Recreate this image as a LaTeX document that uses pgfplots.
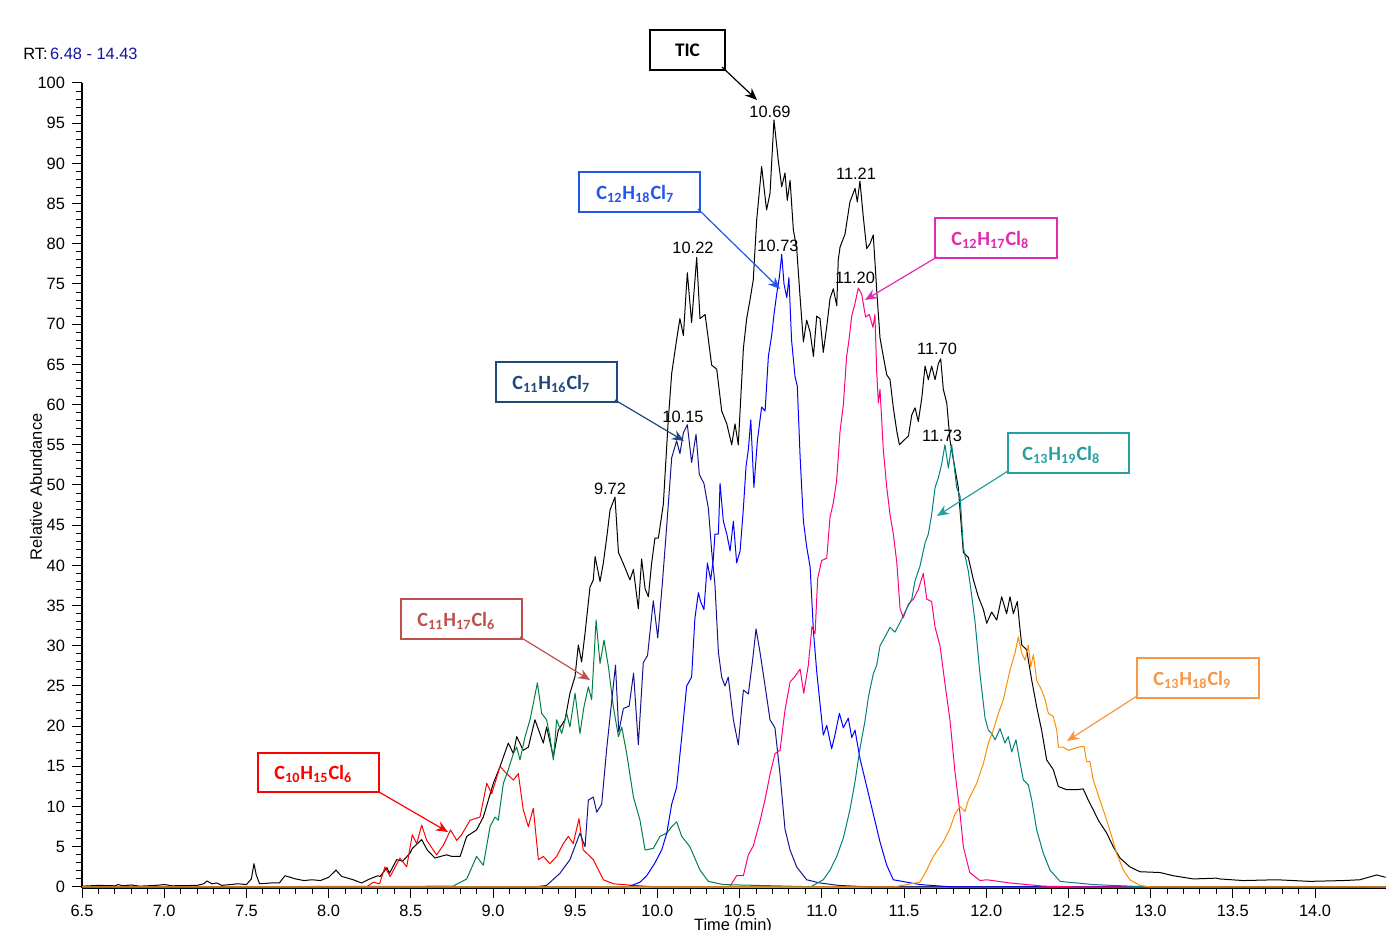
\documentclass[border=0pt]{standalone}
\usepackage{fontspec}
\setmainfont{Liberation Sans}
\newfontfamily\calib{Carlito}
\usepackage{pgfplots}
\pgfplotsset{compat=1.18}
\usetikzlibrary{arrows.meta}

\definecolor{trRed}{RGB}{255,0,0}
\definecolor{trGreen}{RGB}{0,128,64}
\definecolor{trNavy}{RGB}{20,20,140}
\definecolor{trBlue}{RGB}{0,0,255}
\definecolor{trPink}{RGB}{255,0,128}
\definecolor{trTeal}{RGB}{0,128,128}
\definecolor{trOrange}{RGB}{255,140,0}
\definecolor{bxBlue}{RGB}{34,85,238}
\definecolor{bxMag}{RGB}{226,43,174}
\definecolor{bxNavy}{RGB}{31,73,125}
\definecolor{bxTeal}{RGB}{40,160,160}
\definecolor{bxBrick}{RGB}{192,80,77}
\definecolor{bxOrange}{RGB}{247,150,70}
\definecolor{bxRed}{RGB}{255,0,0}
\definecolor{rtBlue}{RGB}{20,20,160}

\newcommand{\lbl}{\fontsize{8.2}{9.5}\selectfont}
\tikzset{
  fbox/.style={line width=1pt},
  ftxt/.style={anchor=base west, inner sep=0pt, font=\calib\bfseries\fontsize{10.1}{12}\selectfont},
  farr/.style={line width=0.6pt, -{Stealth[length=6pt,width=5pt]}},
  pk/.style={inner sep=0pt, font=\lbl}
}

\begin{document}
\begin{tikzpicture}
\begin{axis}[
  scale only axis, width=651.85pt, height=402.6pt,
  xmin=6.5, xmax=14.43, ymin=-0.15, ymax=100,
  axis x line*=bottom, axis y line*=left,
  xtick={6.5,7.0,7.5,8.0,8.5,9.0,9.5,10.0,10.5,11.0,11.5,12.0,12.5,13.0,13.5,14.0},
  ytick={0,5,10,15,20,25,30,35,40,45,50,55,60,65,70,75,80,85,90,95,100},
  minor x tick num=4, minor y tick num=4,
  tick align=outside, major tick length=5pt, minor tick length=3pt,
  tick style={black, line width=0.5pt},
  ticklabel style={font=\lbl},
  /pgf/number format/assume math mode=true,
  xticklabel style={/pgf/number format/.cd, fixed, fixed zerofill, precision=1},
  yticklabel style={/pgf/number format/.cd, fixed, precision=0},
  axis line style={line width=0.6pt},
  clip mode=individual,
  every axis plot/.append style={line width=0.5pt, line join=round, mark=none},
]
% TIC
\addplot[black] coordinates {
(6.5,0.1)(6.6,0.2)(6.7,0.15)(6.72,0.3)(6.75,0.15)(6.8,0.25)(6.85,0.1)(6.95,0.2)(7.0,0.3)(7.05,0.15)
(7.2,0.2)(7.24,0.4)(7.26,0.75)(7.29,0.4)(7.32,0.5)(7.35,0.2)(7.45,0.4)(7.5,0.3)(7.53,1.0)(7.546,2.9)
(7.56,1.5)(7.58,0.4)(7.65,0.5)(7.7,0.5)(7.735,1.4)(7.8,1.0)(7.85,0.8)(7.9,0.9)(7.95,0.8)(8.0,1.2)
(8.045,2.1)(8.08,1.3)(8.1,1.2)(8.15,0.9)(8.2,0.5)(8.25,1.0)(8.3,1.4)(8.313,1.3)(8.355,2.4)(8.37,1.7)
(8.414,3.4)(8.45,3.2)(8.495,4.2)(8.51,4.8)(8.566,5.9)(8.6,4.6)(8.647,3.6)(8.68,3.8)(8.718,4.0)(8.75,3.8)
(8.80,3.8)(8.84,6.3)(8.90,7.1)(8.941,8.7)(9.002,12.9)(9.043,15.0)(9.093,17.9)(9.124,16.6)(9.144,18.7)(9.184,17.0)
(9.215,17.4)(9.255,20.8)(9.306,17.9)(9.326,19.9)(9.367,16.2)(9.397,19.5)(9.438,20.8)(9.468,24.1)(9.499,26.2)(9.519,30.1)
(9.539,28.0)(9.560,31.6)(9.590,37.3)(9.610,38.2)(9.621,41.1)(9.651,38.0)(9.671,40.3)(9.692,43.5)(9.712,46.9)(9.742,48.5)
(9.763,41.6)(9.793,40.2)(9.833,38.2)(9.854,39.5)(9.884,34.6)(9.904,40.8)(9.925,37.1)(9.945,36.1)(9.965,40.3)(9.985,43.4)
(10.006,43.4)(10.036,47.6)(10.066,58.1)(10.087,63.9)(10.117,68.1)(10.137,70.7)(10.158,68.6)(10.182,76.4)(10.208,70.2)(10.239,78.3)
(10.259,70.7)(10.290,71.2)(10.310,68.1)(10.330,64.9)(10.361,64.4)(10.391,59.2)(10.422,57.6)(10.452,55.0)(10.472,57.6)(10.492,55.0)
(10.523,67.0)(10.543,70.7)(10.563,73.0)(10.583,75.5)(10.604,83.0)(10.634,89.6)(10.664,84.2)(10.685,86.3)(10.709,95.4)(10.735,90.4)
(10.756,87.1)(10.776,88.8)(10.790,85.4)(10.807,87.9)(10.827,81.7)(10.847,79.5)(10.868,73.3)(10.888,67.8)(10.908,70.5)(10.929,69.0)
(10.949,66.0)(10.969,71.0)(10.989,70.7)(11.009,66.5)(11.030,69.7)(11.050,73.2)(11.070,74.4)(11.091,72.3)(11.100,78.0)(11.111,79.6)
(11.141,81.2)(11.171,85.2)(11.202,86.9)(11.216,85.2)(11.232,87.8)(11.252,83.4)(11.273,79.4)(11.293,80.0)(11.313,81.1)(11.334,74.2)
(11.354,68.3)(11.374,66.0)(11.395,63.7)(11.415,63.1)(11.435,59.6)(11.456,56.7)(11.472,55.0)(11.496,55.5)(11.527,56.1)(11.547,58.7)
(11.567,59.6)(11.587,57.9)(11.608,60.8)(11.628,64.8)(11.648,63.1)(11.668,64.8)(11.689,63.1)(11.709,65.1)(11.723,65.7)(11.739,61.9)
(11.760,60.2)(11.780,55.5)(11.800,53.2)(11.830,49.7)(11.861,41.6)(11.891,41.0)(11.922,38.2)(11.952,36.1)(11.983,34.5)(12.003,32.8)
(12.033,34.2)(12.064,33.2)(12.094,36.1)(12.124,34.0)(12.145,36.1)(12.165,34.0)(12.189,35.5)(12.206,32.0)(12.216,30.1)(12.246,29.5)
(12.277,25.7)(12.307,22.4)(12.337,19.5)(12.368,15.8)(12.408,14.6)(12.439,12.5)(12.489,12.1)(12.550,12.1)(12.590,12.2)(12.621,10.8)
(12.651,9.6)(12.682,8.3)(12.733,6.7)(12.773,5.0)(12.814,3.6)(12.874,2.5)(12.935,1.9)(13.057,1.8)(13.138,1.4)(13.260,1.0)
(13.40,1.1)(13.422,1.0)(13.564,0.8)(13.767,0.9)(13.969,0.7)(14.172,0.8)(14.273,0.9)(14.375,1.5)(14.43,1.2)
};
% C10H15Cl6
\addplot[trRed] coordinates {
(6.5,0)(8.23,0)(8.272,0.6)(8.31,0.4)(8.343,2.5)(8.374,1.3)(8.434,3.6)(8.475,2.5)(8.509,6.5)(8.536,5.4)
(8.566,7.7)(8.597,5.8)(8.657,4.0)(8.698,5.2)(8.742,7.1)(8.779,5.8)(8.809,6.5)(8.86,8.3)(8.921,8.7)(8.962,12.9)
(8.992,11.6)(9.043,15.0)(9.073,14.3)(9.124,13.3)(9.154,14.1)(9.184,9.6)(9.215,7.5)(9.245,9.8)(9.276,3.4)(9.306,3.8)
(9.346,2.9)(9.387,3.8)(9.428,5.4)(9.458,6.3)(9.488,5.4)(9.523,8.5)(9.549,4.6)(9.580,4.0)(9.610,3.4)(9.671,0.9)
(9.732,0.4)(9.854,0.2)(10.0,0)(14.43,0)
};
% C11H17Cl6
\addplot[trGreen] coordinates {
(6.5,0)(8.757,0.1)(8.84,1.0)(8.90,3.8)(8.941,2.7)(8.982,7.5)(9.012,8.7)(9.032,8.3)(9.063,12.9)(9.093,14.6)
(9.124,16.6)(9.144,17.4)(9.164,15.8)(9.195,18.7)(9.225,20.8)(9.245,22.8)(9.270,25.4)(9.296,21.6)(9.326,20.8)(9.346,18.7)
(9.367,15.8)(9.387,20.8)(9.418,19.1)(9.448,21.6)(9.468,19.9)(9.499,24.1)(9.529,19.1)(9.553,22.4)(9.580,24.9)(9.600,23.3)
(9.627,33.2)(9.651,27.8)(9.675,30.7)(9.702,27.4)(9.732,22.4)(9.763,18.7)(9.783,19.9)(9.813,16.6)(9.854,11.2)(9.894,8.3)
(9.925,4.6)(9.975,4.8)(10.016,6.3)(10.057,6.7)(10.087,7.5)(10.117,8.1)(10.148,6.3)(10.198,5.0)(10.259,2.1)(10.310,0.7)
(10.4,0.3)(10.6,0.2)(10.8,0.1)(11.0,0)(14.43,0)
};
% C11H16Cl7
\addplot[trNavy] coordinates {
(6.5,0)(9.25,0)(9.326,0.2)(9.407,1.7)(9.468,3.4)(9.529,6.7)(9.560,5.0)(9.580,10.8)(9.610,11.2)(9.631,9.3)
(9.661,10.3)(9.692,17.3)(9.722,23.1)(9.745,27.6)(9.765,19.3)(9.793,22.2)(9.828,22.5)(9.855,26.6)(9.884,17.7)(9.914,27.9)
(9.940,28.8)(9.975,35.6)(10.002,31.0)(10.031,38.0)(10.057,45.0)(10.087,53.4)(10.117,55.5)(10.137,53.9)(10.158,56.5)(10.182,57.5)
(10.208,52.8)(10.235,56.3)(10.255,51.3)(10.283,50.2)(10.310,47.1)(10.330,41.8)(10.350,37.6)(10.371,29.2)(10.391,26.1)(10.411,25.0)
(10.431,26.1)(10.462,20.8)(10.492,17.7)(10.523,24.5)(10.553,24.0)(10.579,28.2)(10.600,32.1)(10.624,29.2)(10.655,25.0)(10.685,20.8)
(10.715,19.8)(10.746,14.0)(10.776,7.2)(10.807,4.6)(10.847,2.5)(10.908,0.9)(10.989,0.5)(11.1,0.2)(11.3,0)(14.43,0)
};
% C12H18Cl7
\addplot[trBlue] coordinates {
(6.5,0)(9.80,0)(9.833,0.1)(9.894,0.6)(9.935,1.4)(9.985,3.0)(10.026,4.6)(10.057,6.7)(10.087,10.3)(10.117,12.4)
(10.148,18.7)(10.178,25.0)(10.208,26.1)(10.228,33.4)(10.249,36.6)(10.263,35.5)(10.283,34.5)(10.304,40.3)(10.324,38.2)(10.340,40.8)
(10.350,43.9)(10.371,43.9)(10.381,50.2)(10.401,45.5)(10.422,43.9)(10.442,41.8)(10.462,45.5)(10.482,40.3)(10.503,41.8)(10.523,47.1)
(10.539,52.3)(10.553,54.4)(10.568,58.1)(10.587,49.7)(10.608,55.5)(10.634,59.7)(10.655,59.2)(10.675,66.0)(10.695,68.6)(10.709,71.2)
(10.726,73.8)(10.742,75.9)(10.756,78.7)(10.770,75.0)(10.787,73.3)(10.800,75.8)(10.816,68.0)(10.837,63.5)(10.851,62.3)(10.868,53.5)
(10.888,45.5)(10.908,42.3)(10.929,39.8)(10.949,31.8)(10.969,26.8)(10.989,22.8)(11.009,18.9)(11.030,20.1)(11.060,17.2)(11.080,18.9)
(11.107,21.6)(11.131,19.8)(11.161,21.0)(11.182,18.6)(11.202,19.5)(11.232,16.0)(11.273,12.5)(11.313,9.1)(11.354,5.6)(11.395,2.7)
(11.435,0.9)(11.516,0.6)(11.597,0.3)(11.8,0)(14.43,0)
};
% C12H17Cl8
\addplot[trPink] coordinates {
(6.5,0)(10.40,0)(10.442,0.1)(10.482,1.4)(10.523,1.4)(10.553,4.0)(10.583,5.1)(10.624,8.2)(10.655,10.9)(10.685,14.0)
(10.715,16.6)(10.746,17.0)(10.776,22.0)(10.807,25.5)(10.837,26.2)(10.868,27.1)(10.890,24.1)(10.918,27.6)(10.940,32.4)(10.959,31.5)
(10.975,38.4)(10.999,40.6)(11.030,40.9)(11.050,46.0)(11.070,47.8)(11.090,50.5)(11.111,56.7)(11.131,60.0)(11.151,66.0)(11.165,68.0)
(11.182,71.0)(11.202,72.6)(11.222,74.5)(11.243,73.7)(11.266,70.9)(11.289,71.2)(11.311,69.6)(11.323,71.2)(11.334,64.0)(11.344,60.2)
(11.354,61.9)(11.374,54.4)(11.395,49.7)(11.415,46.3)(11.435,43.9)(11.456,40.4)(11.476,34.6)(11.496,33.5)(11.527,35.2)(11.557,35.8)
(11.587,37.0)(11.617,39.0)(11.638,35.8)(11.668,35.5)(11.689,32.3)(11.719,30.0)(11.749,25.3)(11.780,20.7)(11.810,14.3)(11.841,9.1)
(11.861,5.0)(11.90,1.8)(11.962,0.8)(12.003,0.9)(12.145,0.5)(12.35,0.1)(12.6,0)(14.43,0)
};
% C13H19Cl8
\addplot[trTeal] coordinates {
(6.5,0)(10.929,0)(11.009,0.9)(11.050,2.1)(11.091,3.8)(11.131,6.1)(11.171,9.6)(11.202,13.1)(11.232,17.2)(11.263,20.7)
(11.283,23.6)(11.313,26.5)(11.334,27.6)(11.354,30.0)(11.384,31.1)(11.415,32.3)(11.445,31.7)(11.476,32.9)(11.516,34.6)(11.547,35.8)
(11.567,38.1)(11.597,39.9)(11.628,42.8)(11.648,43.9)(11.668,46.3)(11.689,49.7)(11.709,50.9)(11.729,52.6)(11.749,55.0)(11.770,52.1)
(11.790,55.0)(11.804,52.6)(11.820,49.7)(11.841,48.6)(11.861,42.2)(11.891,39.3)(11.910,36.5)(11.932,33.0)(11.962,26.5)(11.993,21.0)
(12.013,19.5)(12.033,19.1)(12.054,18.3)(12.084,19.7)(12.114,17.9)(12.134,18.7)(12.155,16.8)(12.181,18.3)(12.206,15.4)(12.226,13.3)
(12.256,12.7)(12.277,10.8)(12.307,7.1)(12.347,4.2)(12.388,2.1)(12.449,0.7)(12.65,0.3)(13.0,0)(14.43,0)
};
% C13H18Cl9
\addplot[trOrange] coordinates {
(6.5,0)(11.435,0)(11.597,0.6)(11.638,2.1)(11.678,3.8)(11.739,5.6)(11.780,7.3)(11.810,9.1)(11.841,10.0)(11.871,9.4)
(11.891,10.8)(11.942,12.9)(11.983,15.4)(12.013,17.9)(12.043,19.5)(12.074,21.6)(12.104,23.3)(12.145,27.0)(12.175,29.1)(12.195,31.1)
(12.216,29.1)(12.236,28.2)(12.256,30.1)(12.271,27.4)(12.287,28.9)(12.307,25.7)(12.337,24.5)(12.358,23.3)(12.378,21.6)(12.408,21.2)
(12.429,19.5)(12.439,17.4)(12.469,17.4)(12.499,17.0)(12.530,17.2)(12.560,17.4)(12.595,17.5)(12.611,15.6)(12.631,15.6)(12.651,13.3)
(12.692,10.8)(12.733,8.3)(12.763,6.3)(12.793,4.2)(12.834,2.1)(12.874,0.9)(12.935,0.2)(13.0,0)(14.43,0)
};
\coordinate (O) at (axis cs:6.5,0);
\end{axis}

\begin{scope}[shift={(O)}, x=0.5pt, y=-0.5pt, xshift=-41pt, yshift=443.5pt]
% header and axis titles
\node[anchor=base west, inner sep=0pt, font=\lbl] at (23,60) {RT:\hspace{1.2pt}\textcolor{rtBlue}{6.48 - 14.43}};
\node[rotate=90, inner sep=0pt, font=\lbl] at (36,487) {Relative Abundance};
\node[anchor=base, inner sep=0pt, font=\lbl] at (733,931) {Time (min)};
% peak labels
\node[pk] at (770,112) {10.69};
\node[pk] at (856,174) {11.21};
\node[pk] at (693,248) {10.22};
\node[pk] at (778,246) {10.73};
\node[pk] at (855,278) {11.20};
\node[pk] at (937,349) {11.70};
\node[pk] at (683,417) {10.15};
\node[pk] at (942,436) {11.73};
\node[pk] at (610,489) {9.72};
% TIC callout
\draw[black, fbox] (650,30) rectangle (725,70);
\node[inner sep=0pt, font=\calib\bfseries\fontsize{9.6}{11}\selectfont] at (687.5,50) {TIC};
\draw[black, farr] (722,67) -- (757,100);
% C12H18Cl7
\draw[bxBlue, fbox] (579,172) rectangle (700,212);
\node[ftxt, text=bxBlue] at (596,200) {C\textsubscript{12}H\textsubscript{18}Cl\textsubscript{7}};
\draw[bxBlue, farr] (698,209) -- (780,289);
% C12H17Cl8
\draw[bxMag, fbox] (935,218) rectangle (1057,258);
\node[ftxt, text=bxMag] at (951,246) {C\textsubscript{12}H\textsubscript{17}Cl\textsubscript{8}};
\draw[bxMag, farr] (937,257) -- (865,300);
% C11H16Cl7
\draw[bxNavy, fbox] (496,362) rectangle (617,402);
\node[ftxt, text=bxNavy] at (512,390) {C\textsubscript{11}H\textsubscript{16}Cl\textsubscript{7}};
\draw[bxNavy, farr] (615,400) -- (684,441);
% C13H19Cl8
\draw[bxTeal, fbox] (1008,433) rectangle (1129,473);
\node[ftxt, text=bxTeal] at (1022,461) {C\textsubscript{13}H\textsubscript{19}Cl\textsubscript{8}};
\draw[bxTeal, farr] (1008,471) -- (937,516);
% C11H17Cl6
\draw[bxBrick, fbox] (401,599) rectangle (522,639);
\node[ftxt, text=bxBrick] at (417,627) {C\textsubscript{11}H\textsubscript{17}Cl\textsubscript{6}};
\draw[bxBrick, farr] (520,637) -- (590,680);
% C13H18Cl9
\draw[bxOrange, fbox] (1137,658) rectangle (1259,698);
\node[ftxt, text=bxOrange] at (1153,686) {C\textsubscript{13}H\textsubscript{18}Cl\textsubscript{9}};
\draw[bxOrange, farr] (1137,696) -- (1067,741);
% C10H15Cl6
\draw[bxRed, fbox] (258,753) rectangle (379,792);
\node[ftxt, text=bxRed] at (274,780) {C\textsubscript{10}H\textsubscript{15}Cl\textsubscript{6}};
\draw[bxRed, farr] (379,792) -- (448,832);
\pgfresetboundingbox
\path[use as bounding box] (0,0) rectangle (1386,930);
\end{scope}
\end{tikzpicture}
\end{document}
